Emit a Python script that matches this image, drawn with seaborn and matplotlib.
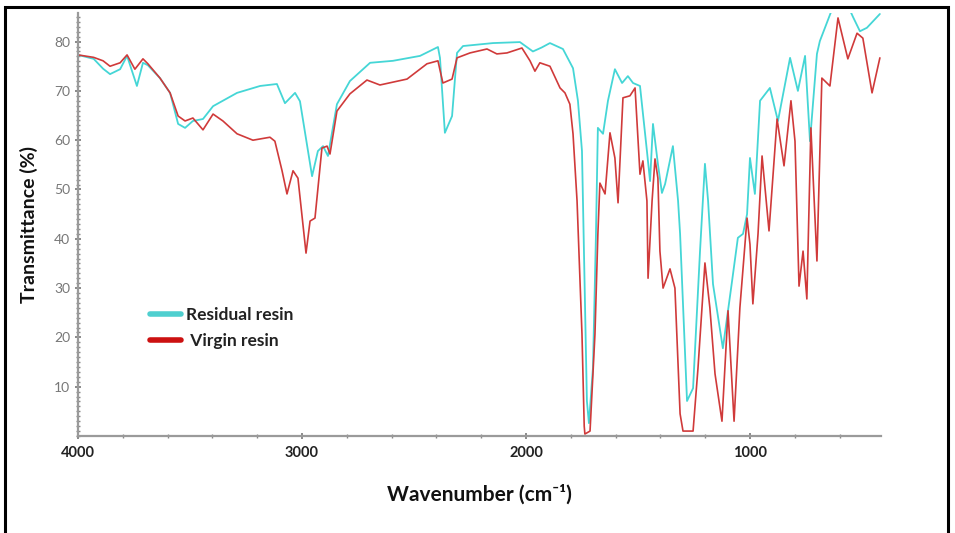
import numpy as np
import pandas as pd
import matplotlib
matplotlib.use("Agg")
import matplotlib.pyplot as plt
import seaborn as sns
from matplotlib.ticker import MultipleLocator
from matplotlib.patches import Rectangle
from matplotlib.lines import Line2D

# ---- data ----
virgin_wn = [4000, 3930, 3888, 3857, 3812, 3781, 3746, 3710, 3688, 3634, 3589, 3553, 3522, 3487,
             3442, 3397, 3353, 3290, 3219, 3143, 3121, 3089, 3067, 3040, 3018, 2982, 2964, 2942,
             2911, 2888, 2875, 2844, 2786, 2710, 2652, 2531, 2442, 2393, 2371, 2330, 2308, 2250,
             2174, 2130, 2085, 2018, 1982, 1960, 1938, 1893, 1848, 1826, 1804, 1790, 1772, 1750,
             1740, 1737, 1714, 1692, 1679, 1670, 1647, 1625, 1603, 1589, 1567, 1536, 1513, 1491,
             1478, 1460, 1455, 1437, 1424, 1411, 1402, 1388, 1357, 1335, 1312, 1299, 1254, 1232,
             1201, 1179, 1156, 1125, 1098, 1071, 1045, 1013, 1000, 987, 964, 946, 915, 879, 848,
             817, 799, 781, 763, 746, 728, 701, 679, 643, 607, 563, 522, 496, 455, 420]
virgin_t = [77.3, 76.8, 76.1, 75.0, 75.7, 77.3, 74.4, 76.5, 75.5, 72.6, 69.6, 64.9, 63.9, 64.5,
            62.1, 65.3, 63.9, 61.3, 60.0, 60.6, 59.8, 53.8, 49.1, 53.8, 52.3, 37.1, 43.6, 44.2,
            58.4, 58.8, 57.2, 65.9, 69.4, 72.2, 71.2, 72.4, 75.5, 76.1, 71.6, 72.4, 76.7, 77.7,
            78.5, 77.5, 77.7, 78.7, 76.1, 74.0, 75.7, 75.0, 70.6, 69.6, 67.3, 61.3, 47.7, 20.7,
            2.0, 0.4, 1.0, 20.7, 41.0, 51.3, 49.1, 61.5, 56.4, 47.3, 68.6, 69.0, 70.6, 53.1,
            55.8, 47.7, 32.0, 47.7, 56.2, 52.3, 37.5, 30.0, 33.9, 30.0, 4.5, 1.0, 1.0, 13.8,
            35.1, 26.0, 12.6, 3.0, 25.4, 3.0, 26.0, 44.2, 38.9, 26.8, 41.0, 56.8, 41.6, 64.3, 54.8,
            68.0, 59.8, 30.4, 37.5, 27.8, 62.5, 35.5, 72.6, 71.0, 84.8, 76.5, 81.7, 80.7, 69.6, 76.7]

residual_wn = [4000, 3930, 3888, 3857, 3812, 3781, 3737, 3710, 3688, 3634, 3589, 3553, 3522, 3487,
               3442, 3397, 3290, 3187, 3112, 3076, 3031, 3009, 2955, 2929, 2906, 2884, 2844, 2786,
               2696, 2594, 2473, 2393, 2384, 2362, 2330, 2308, 2281, 2147, 2027, 1969, 1930, 1893,
               1835, 1790, 1768, 1750, 1728, 1719, 1701, 1688, 1679, 1656, 1634, 1603, 1571, 1545,
               1522, 1491, 1460, 1446, 1433, 1411, 1393, 1379, 1344, 1321, 1312, 1281, 1254, 1223,
               1201, 1187, 1165, 1121, 1080, 1054, 1031, 1013, 1000, 978, 955, 911, 875, 821, 786,
               754, 732, 701, 688, 634, 600, 560, 540, 509, 478, 420]
residual_t = [77.3, 76.5, 74.5, 73.4, 74.4, 77.1, 71.0, 75.7, 75.2, 72.6, 69.6, 63.3, 62.5, 63.9,
              64.3, 66.9, 69.6, 71.0, 71.4, 67.5, 69.6, 67.9, 52.7, 57.8, 58.8, 56.8, 67.3, 72.0,
              75.7, 76.1, 77.1, 78.9, 76.7, 61.5, 64.9, 77.7, 79.1, 79.7, 79.9, 78.0, 78.8, 79.7,
              78.5, 74.6, 68.0, 57.8, 7.1, 2.6, 13.8, 40.0, 62.5, 61.3, 68.0, 74.4, 71.6, 73.0,
              71.6, 71.0, 57.8, 51.7, 63.3, 55.2, 49.3, 51.1, 58.8, 47.7, 41.0, 7.1, 9.7, 37.5,
              55.2, 47.7, 30.8, 17.8, 31.4, 40.2, 41.0, 45.0, 56.4, 49.1, 68.0, 70.6, 63.9, 76.7, 70.0,
              77.1, 59.8, 77.5, 80.1, 86.5, 88.0, 87.0, 85.0, 82.1, 82.8, 85.6]

series_names = ["Residual resin", " Virgin resin"]
line_colors = ["#45d6d6", "#d03a3a"]
legend_colors = ["#4fcfcf", "#cc1111"]

# ---- figure ----
sns.set_style("white")
plt.rcParams["font.family"] = ["Lato", "DejaVu Sans"]

fig = plt.figure(figsize=(9.55, 5.33), dpi=100)
ax = fig.add_axes([78 / 955, 1 - 436 / 533, (881 - 78) / 955, (436 - 13) / 533])

df_res = pd.DataFrame({"wn": residual_wn, "T": residual_t})
df_vir = pd.DataFrame({"wn": virgin_wn, "T": virgin_t})
sns.lineplot(data=df_res, x="wn", y="T", ax=ax, color=line_colors[0], lw=1.3,
             sort=False, estimator=None, legend=False)
sns.lineplot(data=df_vir, x="wn", y="T", ax=ax, color=line_colors[1], lw=1.2,
             sort=False, estimator=None, legend=False)

ax.set_xlim(4000, 415)
ax.set_ylim(0, 85.8)

ax.xaxis.set_major_locator(MultipleLocator(1000))
ax.xaxis.set_minor_locator(MultipleLocator(200))
ax.yaxis.set_minor_locator(MultipleLocator(1))
ax.set_yticks([10, 20, 30, 40, 50, 60, 70, 80])

for s in ["top", "right"]:
    ax.spines[s].set_visible(False)
for s in ["left", "bottom"]:
    ax.spines[s].set_color("#9a9a9a")
    ax.spines[s].set_linewidth(1.6)

ax.tick_params(axis="both", which="major", direction="inout", length=5, width=1.2,
               color="#777777")
ax.tick_params(axis="both", which="minor", direction="inout", length=3, width=1.0,
               color="#888888")
ax.tick_params(axis="x", which="both", bottom=True)
ax.tick_params(axis="y", which="both", left=True)
ax.tick_params(axis="x", labelsize=10.5, labelcolor="#222222", pad=5)
ax.tick_params(axis="y", labelsize=10, labelcolor="#777777", pad=3)
for lab in ax.get_xticklabels():
    lab.set_fontweight("bold")

ax.set_xlabel("Wavenumber (cm\u207b\u00b9)", fontsize=15, fontweight="bold",
              color="#111111", labelpad=17)
ax.set_ylabel("Transmittance (%)", fontsize=14, fontweight="bold",
              color="#111111", labelpad=12)

handles = [Line2D([], [], color=legend_colors[0], lw=4),
           Line2D([], [], color=legend_colors[1], lw=4)]
leg = ax.legend(handles, series_names, loc="center left",
                bbox_to_anchor=(0.07, 0.255), frameon=False, handlelength=1.8,
                handletextpad=0.3, labelspacing=0.6,
                prop={"weight": "bold", "size": 12.5})
for t in leg.get_texts():
    t.set_color("#222222")

fig.patches.append(Rectangle((5 / 955, -0.01), (948 - 5) / 955, 1 - 7 / 533 + 0.01,
                             transform=fig.transFigure, fill=False, edgecolor="black",
                             lw=2.2, zorder=10))

fig.savefig("out.png", dpi=100)
